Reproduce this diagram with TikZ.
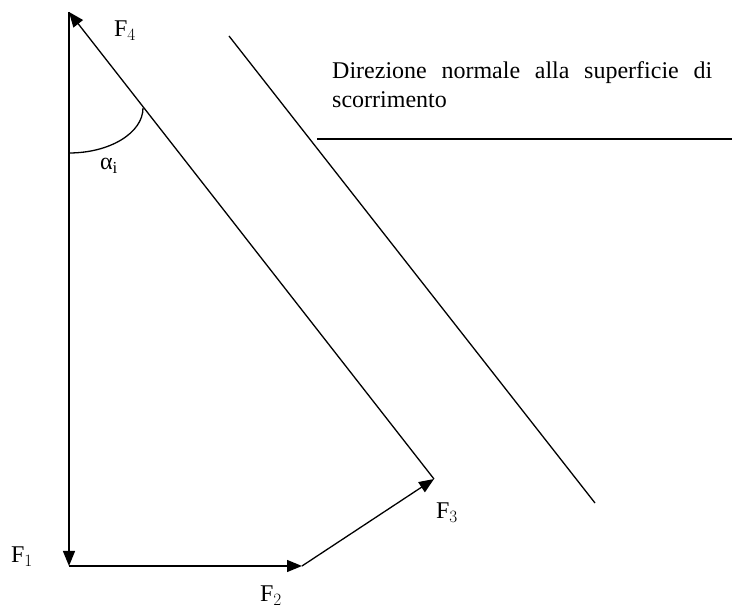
\documentclass[tikz,border=0pt]{standalone}
\usepackage{fontspec}
\setmainfont{Liberation Serif}
\usepackage{tikz}
\usetikzlibrary{arrows.meta}
\tikzset{
  force/.style   = {line width=1.3pt, -{Triangle[length=15pt, width=12pt]}},
  plain/.style   = {line width=1.3pt},
  flabel/.style  = {font=\fontsize{24}{28}\selectfont, inner sep=0pt},
  note/.style    = {font=\fontsize{24}{29}\selectfont, text width=380pt, align=justify, inner sep=0pt},
}

\begin{document}
\begin{tikzpicture}[x=1pt, y=1pt]
    \useasboundingbox (0,0) rectangle (732,611);

    % ── Vertices of the force polygon ───────────────────────────
    \coordinate (top)    at (69, 599);
    \coordinate (corner) at (69, 45);
    \coordinate (tipb)   at (302, 45);
    \coordinate (tipc)   at (434, 132);

    % ── Forces ──────────────────────────────────────────────────
    \draw[force] (top) -- (corner);
    \draw[force] (corner) -- (tipb);
    \draw[force] (tipb) -- (tipc);
    \draw[force] (tipc) -- (top);

    % ── Angle ───────────────────────────────────────────────────
    \coordinate (arcstart) at (69, 458);
    \draw[plain] (arcstart) arc[start angle=270, end angle=360, x radius=74, y radius=45];

    % ── Slip surface normal ─────────────────────────────────────
    \coordinate (sa) at (229, 575);
    \coordinate (sb) at (595, 108);
    \draw[plain] (sa) -- (sb);
    \coordinate (na) at (317, 472);
    \coordinate (nb) at (732, 472);
    \draw[plain] (na) -- (nb);

    % ── Labels ──────────────────────────────────────────────────
    \node[flabel] (lf4)    at (125, 580) {$\mathrm{F}_4$};
    \node[flabel] (lalpha) at (109, 445) {α$_{\mathrm{i}}$};
    \node[flabel] (lf1)    at (22, 54)   {$\mathrm{F}_1$};
    \node[flabel] (lf2)    at (271, 15)  {$\mathrm{F}_2$};
    \node[flabel] (lf3)    at (447, 98)  {$\mathrm{F}_3$};
    \node[note, anchor=base west] (dir) at (332, 532)
      {Direzione normale alla superficie di\linebreak scorrimento};
  \end{tikzpicture}
\end{document}
